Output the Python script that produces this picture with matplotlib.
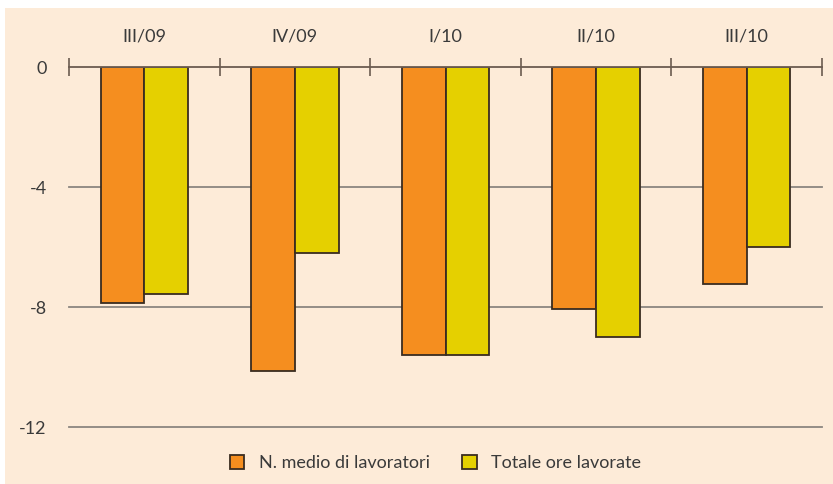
import matplotlib.pyplot as plt
from matplotlib.patches import Rectangle
import numpy as np

categories = ["III/09", "IV/09", "I/10", "II/10", "III/10"]
lavoratori = [-7.88, -10.14, -9.6, -8.08, -7.23]
ore = [-7.56, -6.2, -9.6, -8.99, -6.0]
series_names = ["N. medio di lavoratori", "Totale ore lavorate"]
yticks = [0, -4, -8, -12]

plt.rcParams['font.family'] = ['Lato', 'DejaVu Sans']

W, H = 833, 484
fig = plt.figure(figsize=(W/100, H/100), dpi=100, facecolor='white')
bg = '#FDEBD8'
fig.patches.append(Rectangle((5/W, 0), 1 - 5/W, 1 - 8/H, transform=fig.transFigure,
                             facecolor=bg, edgecolor='none', zorder=-10))

ax = fig.add_axes([69/W, 1 - 427/H, (822-69)/W, (427-67)/H])
ax.set_facecolor('none')
ax.set_zorder(1)

x = np.arange(len(categories))
w = 0.29
edge = '#3a2c20'
ax.bar(x - w/2, lavoratori, w, color='#F58E1F', edgecolor=edge, linewidth=1.3, zorder=3,
       label=series_names[0])
ax.bar(x + w/2, ore, w, color='#E5D000', edgecolor=edge, linewidth=1.3, zorder=3,
       label=series_names[1])

ax.set_xlim(-0.5, len(categories) - 0.5)
ax.set_ylim(-12, 0)

for s in ['left', 'right', 'bottom']:
    ax.spines[s].set_visible(False)
ax.spines['top'].set_color('#6b5b50')
ax.spines['top'].set_linewidth(1.3)
ax.spines['top'].set_zorder(4)

ax.xaxis.tick_top()
ax.set_xticks(x)
ax.set_xticklabels(categories, fontsize=13, color='#3a3a3a')
ax.tick_params(axis='x', which='major', length=0, pad=16)
ax.set_xticks(np.arange(-0.5, len(categories)), minor=True)
ax.tick_params(axis='x', which='minor', length=13, direction='inout', width=1.2,
               color='#6b5b50', top=True, bottom=False)

ax.set_yticks(yticks)
ax.set_yticklabels([str(v) for v in yticks], fontsize=13, color='#3a3a3a')
ax.tick_params(axis='y', length=0, pad=16)

for v in yticks[1:]:
    ax.axhline(v, color='#8c8680', linewidth=1.3, zorder=1, clip_on=False)

leg = fig.legend(loc='center', bbox_to_anchor=(0.5 + 19/W, 1 - 463/H), ncol=2, frameon=False,
                 fontsize=13, handlelength=0.8, handleheight=0.8, columnspacing=1.8,
                 handletextpad=0.8, labelcolor='#3a3a3a')

fig.savefig('out.png', dpi=100, facecolor='white')
